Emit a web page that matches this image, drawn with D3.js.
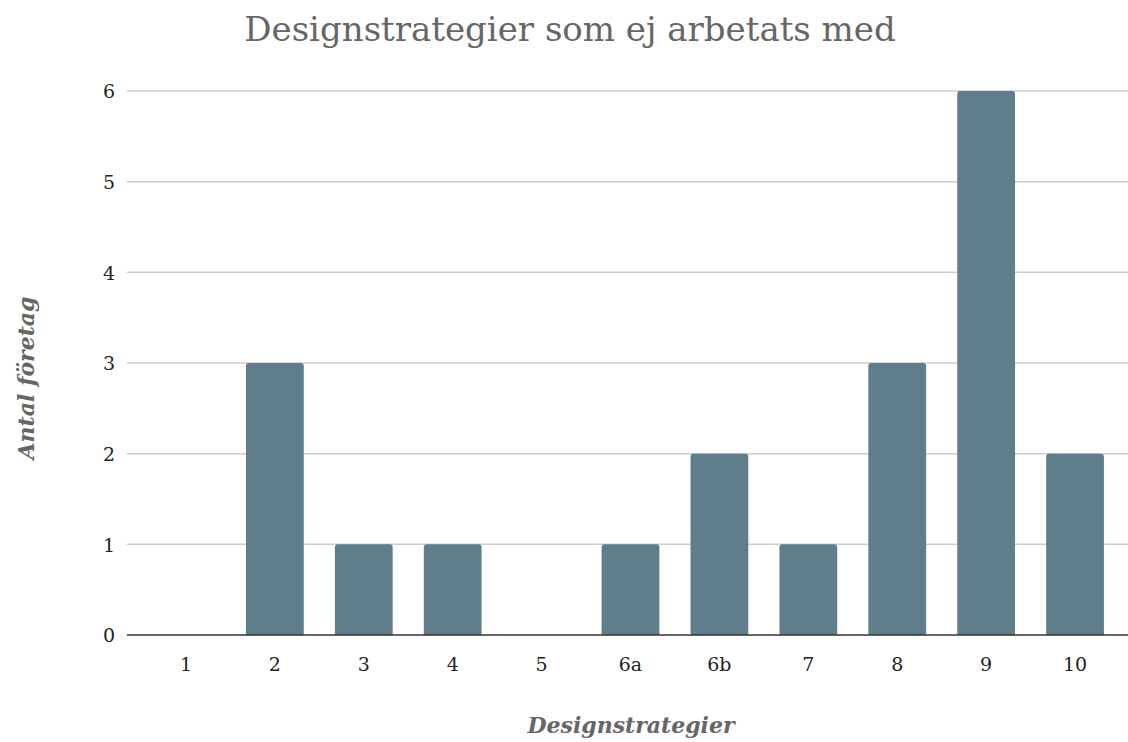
<!DOCTYPE html>
<html>
<head>
<meta charset="utf-8">
<script src="https://cdn.jsdelivr.net/npm/d3@7"></script>
<style>
  body { margin: 0; background: #fff; }
  svg { display: block; }
</style>
</head>
<body>
<div id="chart"></div>
<script>
// Datos del gráfico
const categories = ['1', '2', '3', '4', '5', '6a', '6b', '7', '8', '9', '10'];
const values = [0, 3, 1, 1, 0, 1, 2, 1, 3, 6, 2];
const yTicks = [0, 1, 2, 3, 4, 5, 6];

const width = 1128;
const height = 742;
const font = "Georgia, 'DejaVu Serif', serif";

const svg = d3.select('#chart')
    .append('svg')
    .attr('width', width)
    .attr('height', height);

const plotLeft = 127, plotRight = 1128;

const x = d3.scaleBand()
    .domain(categories)
    .range([141.5, 1119.5])
    .paddingInner(0.35)
    .paddingOuter(0.175);

const y = d3.scaleLinear()
    .domain([0, 6])
    .range([635, 91]);

// Líneas de cuadrícula
svg.append('g')
    .selectAll('line')
    .data(yTicks.filter(d => d > 0))
    .join('line')
    .attr('x1', plotLeft).attr('x2', plotRight)
    .attr('y1', d => y(d)).attr('y2', d => y(d))
    .attr('stroke', '#cccccc')
    .attr('stroke-width', 1.5);

// Etiquetas eje Y
svg.append('g')
    .selectAll('text')
    .data(yTicks)
    .join('text')
    .attr('x', 115)
    .attr('y', d => y(d))
    .attr('dy', '0.38em')
    .attr('text-anchor', 'end')
    .attr('font-family', font)
    .attr('font-size', '19px')
    .attr('fill', '#222')
    .text(d => d);

// Barras con esquinas superiores redondeadas
const r = 3;
svg.append('g')
    .selectAll('path')
    .data(values.map((v, i) => ({ cat: categories[i], v })).filter(d => d.v > 0))
    .join('path')
    .attr('fill', '#607d8b')
    .attr('d', d => {
        const x0 = x(d.cat), x1 = x0 + x.bandwidth();
        const y0 = y(d.v), y1 = y(0);
        return `M${x0},${y1} V${y0 + r} Q${x0},${y0} ${x0 + r},${y0} H${x1 - r} Q${x1},${y0} ${x1},${y0 + r} V${y1} Z`;
    });

// Línea base
svg.append('line')
    .attr('x1', plotLeft).attr('x2', plotRight)
    .attr('y1', y(0)).attr('y2', y(0))
    .attr('stroke', '#333')
    .attr('stroke-width', 1.5);

// Etiquetas eje X
svg.append('g')
    .selectAll('text')
    .data(categories)
    .join('text')
    .attr('x', d => x(d) + x.bandwidth() / 2)
    .attr('y', 671)
    .attr('text-anchor', 'middle')
    .attr('font-family', font)
    .attr('font-size', '19px')
    .attr('fill', '#222')
    .text(d => d);

// Título
svg.append('text')
    .attr('x', 570)
    .attr('y', 41)
    .attr('text-anchor', 'middle')
    .attr('font-family', font)
    .attr('font-size', '34px')
    .attr('fill', '#666')
    .text('Designstrategier som ej arbetats med');

// Títulos de ejes
svg.append('text')
    .attr('x', 631)
    .attr('y', 733)
    .attr('text-anchor', 'middle')
    .attr('font-family', font)
    .attr('font-size', '22px')
    .attr('font-weight', 'bold')
    .attr('font-style', 'italic')
    .attr('fill', '#666')
    .text('Designstrategier');

svg.append('text')
    .attr('transform', 'translate(34,378) rotate(-90)')
    .attr('text-anchor', 'middle')
    .attr('font-family', font)
    .attr('font-size', '22px')
    .attr('font-weight', 'bold')
    .attr('font-style', 'italic')
    .attr('fill', '#666')
    .text('Antal företag');
</script>
</body>
</html>
